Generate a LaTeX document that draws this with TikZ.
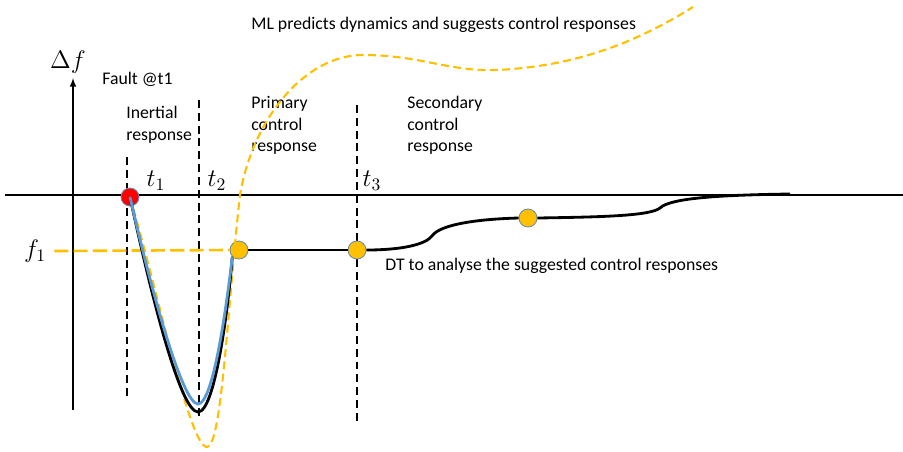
\documentclass[tikz,border=0pt]{standalone}
\usepackage{fontspec}
\setmainfont{Carlito}
\usetikzlibrary{arrows, shapes, positioning}

\definecolor{gold}{HTML}{FFC000}
\definecolor{steel}{HTML}{5B9BD5}
\definecolor{rim}{HTML}{6A8BB0}

\tikzset{
  txt/.style={font=\fontsize{10.1}{12.2}\selectfont, align=left, inner sep=0pt},
  mth/.style={font=\fontsize{14}{16}\selectfont, inner sep=0pt},
  dot/.style={circle, draw=rim, line width=0.5pt, minimum size=0.36cm, inner sep=0pt},
  split/.style={dashed, dash pattern=on 4.5pt off 2.8pt, line width=1.4pt},
  mlcurve/.style={gold, dashed, dash pattern=on 4.5pt off 2.5pt, line width=1.2pt},
}

\begin{document}
\begin{tikzpicture}[x=0.02cm, y=-0.02cm]
      \useasboundingbox (0,0) rectangle (903,451);

      % axes %
      \coordinate (xl) at (5,195);
      \coordinate (xr) at (903,195);
      \coordinate (yb) at (73,410);
      \coordinate (yt) at (73,78);
      \draw[line width=0.7pt] (xl) -- (xr);
      \draw[->, >=latex, line width=0.7pt] (yb) -- (yt);

      % labels %
      \node[mth] (df) at (68,62) {$\Delta f$};
      \node[mth] (f1) at (35,251) {$f_1$};
      \node[txt, anchor=west] (fault) at (102,79) {Fault @t1};
      \node[txt, anchor=north west] (inertial) at (126,106) {Inertial\\response};
      \node[txt, anchor=north west] (primary) at (251,96) {Primary\\control\\response};
      \node[txt, anchor=north west] (secondary) at (407,96) {Secondary\\control\\response};
      \node[txt, anchor=west] (ml) at (251,25) {ML predicts dynamics and suggests control responses};
      \node[txt, anchor=west] (dt) at (385,266) {DT to analyse the suggested control responses};
      \node[mth] (t1) at (156,181) {$t_1$};
      \node[mth] (t2) at (217,181) {$t_2$};
      \node[mth] (t3) at (372,181) {$t_3$};

      % boundaries %
      \draw[split] (127,157) -- (127,398);
      \draw[split] (199,100) -- (199,420);
      \draw[split] (357,105) -- (357,425);

      % points %
      \node[dot, fill=red] (p0) at (130,197) {};
      \node[dot, fill=gold] (p1) at (239,250) {};
      \node[dot, fill=gold] (p2) at (357,250) {};
      \node[dot, fill=gold] (p3) at (528,218) {};

      % f1 level %
      \draw[gold, dashed, dash pattern=on 8pt off 3pt, line width=1.5pt] (f1.east) ++(8,0) -- (p1.west);

      % ML prediction %
      \draw[mlcurve] (p0.center) .. controls (160,300) and (190,447) .. (207,447)
        .. controls (222,447) and (228,300) .. (240,195)
        .. controls (253,118) and (305,55) .. (363,55)
        .. controls (420,55) and (450,72) .. (497,70)
        .. controls (580,66) and (640,40) .. (693,7);

      % measured response %
      \draw[black, line width=1.6pt] (p0.center) .. controls (150,290) and (180,412) .. (198,412)
        .. controls (215,412) and (228,310) .. (p1.south west);
      \draw[black, line width=1.6pt] (p1) -- (p2);
      \draw[black, line width=1.6pt] (p2.east) .. controls (400,250) and (425,245) .. (432,236)
        .. controls (440,224) and (480,219) .. (p3.west);
      \draw[black, line width=1.6pt] (p3.east) .. controls (600,217) and (650,216) .. (660,208)
        .. controls (670,198) and (720,195) .. (790,194);

      % DT estimate %
      \draw[steel, line width=1.6pt] (p0.center) .. controls (150,285) and (182,404) .. (198,404)
        .. controls (213,404) and (226,310) .. (p1.south west);
\end{tikzpicture}
\end{document}
